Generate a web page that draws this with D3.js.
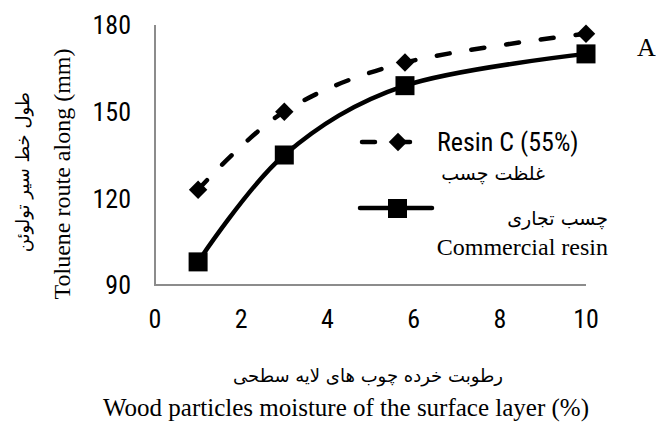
<!DOCTYPE html>
<html>
<head>
<meta charset="utf-8">
<script src="https://cdn.jsdelivr.net/npm/d3@7"></script>
<style>
  body { margin: 0; background: #fff; }
  svg { display: block; }
  .tick-lbl { font-family: "Liberation Sans Narrow", "Roboto Condensed", "Liberation Sans", sans-serif; font-size: 26px; fill: #000; }
  .serif { font-family: "Liberation Serif", "Times New Roman", serif; fill: #000; }
  .fa { font-family: "DejaVu Sans", sans-serif; fill: #000; }
</style>
</head>
<body>
<svg width="656" height="427"></svg>
<script>
// moisture (%) on x, as placed in the picture
var moisture = [1, 3, 5.8, 10];
// toluene route length (mm)
var resinC = [123, 150, 167, 177];
var commercial = [98, 135, 159, 170];

var xTicks = [0, 2, 4, 6, 8, 10];
var yTicks = [90, 120, 150, 180];

var svg = d3.select("svg");

var x = d3.scaleLinear().domain([0, 10]).range([155, 586]);
var y = d3.scaleLinear().domain([90, 180]).range([285, 25]);

// axis lines
svg.append("line")
    .attr("x1", x(0)).attr("x2", x(0))
    .attr("y1", y(180)).attr("y2", y(90))
    .attr("stroke", "#8c8c8c").attr("stroke-width", 2);
svg.append("line")
    .attr("x1", x(0) - 1).attr("x2", x(10))
    .attr("y1", y(90)).attr("y2", y(90))
    .attr("stroke", "#8c8c8c").attr("stroke-width", 2);

// tick labels
svg.selectAll(".xt").data(xTicks).enter().append("text")
    .attr("class", "tick-lbl")
    .attr("x", function(d){ return x(d); })
    .attr("y", 328)
    .attr("text-anchor", "middle")
    .text(function(d){ return d; });

svg.selectAll(".yt").data(yTicks).enter().append("text")
    .attr("class", "tick-lbl")
    .attr("x", 131)
    .attr("y", function(d){ return y(d); })
    .attr("dy", "0.36em")
    .attr("text-anchor", "end")
    .text(function(d){ return d; });

// smoothed lines
var line = function(vals){
    return d3.line()
        .x(function(d, i){ return x(moisture[i]); })
        .y(function(d){ return y(d); })
        .curve(d3.curveCardinal.tension(0))(vals);
};

svg.append("path")
    .attr("d", line(resinC))
    .attr("fill", "none").attr("stroke", "#000")
    .attr("stroke-width", 4.5)
    .attr("stroke-linecap", "round")
    .attr("stroke-dasharray", "13,22");

svg.append("path")
    .attr("d", line(commercial))
    .attr("fill", "none").attr("stroke", "#000")
    .attr("stroke-width", 4.5);

// markers
var diamond = d3.symbol().type(d3.symbolSquare).size(170);
svg.selectAll(".dia").data(resinC).enter().append("path")
    .attr("d", diamond)
    .attr("transform", function(d, i){
        return "translate(" + x(moisture[i]) + "," + y(d) + ") rotate(45)";
    })
    .attr("fill", "#000");

svg.selectAll(".sq").data(commercial).enter().append("rect")
    .attr("x", function(d, i){ return x(moisture[i]) - 9.5; })
    .attr("y", function(d){ return y(d) - 9.5; })
    .attr("width", 19).attr("height", 19)
    .attr("fill", "#000");

// legend
svg.append("line")
    .attr("x1", 362).attr("x2", 417).attr("y1", 142).attr("y2", 142)
    .attr("stroke", "#000").attr("stroke-width", 4.5)
    .attr("stroke-linecap", "round")
    .attr("stroke-dasharray", "13,22");
svg.append("path")
    .attr("d", diamond)
    .attr("transform", "translate(398,142) rotate(45)")
    .attr("fill", "#000");
svg.append("text").attr("class", "tick-lbl")
    .attr("x", 437).attr("y", 151)
    .text("Resin C (55%)");
svg.append("text").attr("class", "fa")
    .attr("x", 545).attr("y", 180).attr("font-size", 19)
    .attr("text-anchor", "end")
    .text("غلظت چسب");

svg.append("line")
    .attr("x1", 360).attr("x2", 432).attr("y1", 208).attr("y2", 208)
    .attr("stroke", "#000").attr("stroke-width", 4.5)
    .attr("stroke-linecap", "round");
svg.append("rect")
    .attr("x", 388).attr("y", 199).attr("width", 19).attr("height", 19)
    .attr("fill", "#000");
svg.append("text").attr("class", "fa")
    .attr("x", 608).attr("y", 225).attr("font-size", 19)
    .attr("text-anchor", "end")
    .text("چسب تجاری");
svg.append("text").attr("class", "serif")
    .attr("x", 608).attr("y", 255).attr("font-size", 24)
    .attr("text-anchor", "end")
    .text("Commercial resin");

svg.append("text").attr("class", "serif")
    .attr("x", 637).attr("y", 56).attr("font-size", 26)
    .text("A");

// axis titles
svg.append("text").attr("class", "fa")
    .attr("x", 368).attr("y", 382).attr("font-size", 18)
    .attr("text-anchor", "middle")
    .text("رطوبت خرده چوب های لایه سطحی");
svg.append("text").attr("class", "serif")
    .attr("x", 346).attr("y", 416).attr("font-size", 25)
    .attr("text-anchor", "middle")
    .text("Wood particles moisture of the surface layer (%)");

svg.append("text").attr("class", "serif")
    .attr("transform", "translate(70,174) rotate(-90)")
    .attr("font-size", 24)
    .attr("text-anchor", "middle")
    .text("Toluene route along (mm)");
svg.append("text").attr("class", "fa")
    .attr("transform", "translate(29,172) rotate(-90)")
    .attr("font-size", 18)
    .attr("text-anchor", "middle")
    .text("طول خط سیر تولوئن");
</script>
</body>
</html>
